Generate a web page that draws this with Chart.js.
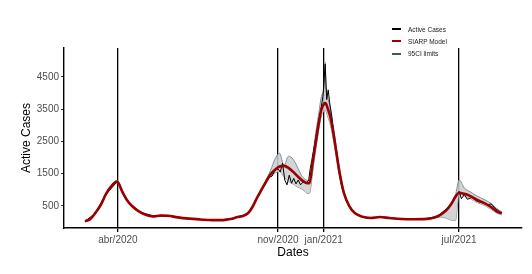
<!DOCTYPE html>
<html>
<head>
<meta charset="utf-8">
<script src="https://cdn.jsdelivr.net/npm/chart.js@4/dist/chart.umd.min.js"></script>
<style>
  html, body { margin: 0; padding: 0; background: #fff; }
  #wrap { position: relative; width: 532px; height: 274px; }
  #legend { position: absolute; left: 392px; top: 23px; font-family: "Liberation Sans", Arial, sans-serif; font-size: 6.5px; color: #222; }
  .item { height: 12.3px; display: flex; align-items: center; }
  .sw { width: 9px; height: 2px; margin-right: 7px; }
</style>
</head>
<body>
<div id="wrap">
  <canvas id="c" width="532" height="274"></canvas>
  <div id="legend"></div>
</div>
<script>
// ---- data ----
const modelDates = ["2020-02-17","2020-02-24","2020-03-02","2020-03-09","2020-03-16","2020-03-23","2020-03-31",
  "2020-04-07","2020-04-14","2020-04-21","2020-04-28","2020-05-08","2020-05-18","2020-05-28","2020-06-07","2020-06-20",
  "2020-07-05","2020-07-20","2020-08-05","2020-08-20","2020-08-30","2020-09-08","2020-09-16","2020-09-22","2020-09-28",
  "2020-10-04","2020-10-10","2020-10-16","2020-10-22","2020-10-28","2020-11-03","2020-11-09","2020-11-15","2020-11-21",
  "2020-11-27","2020-12-03","2020-12-09","2020-12-13","2020-12-17","2020-12-21","2020-12-25","2020-12-29","2021-01-02",
  "2021-01-03","2021-01-04",
  "2021-01-06","2021-01-10","2021-01-14","2021-01-18","2021-01-22","2021-01-28","2021-02-04","2021-02-12","2021-02-22",
  "2021-03-05","2021-03-17","2021-03-30","2021-04-15","2021-05-01","2021-05-15","2021-05-28","2021-06-06","2021-06-13",
  "2021-06-20","2021-06-26","2021-07-01","2021-07-08","2021-07-16","2021-07-25","2021-08-03","2021-08-12","2021-08-20","2021-08-27"];
const modelValues = [20,80,280,520,860,1100,1250,
  930,650,470,340,220,170,200,190,140,
  100,75,55,55,90,150,190,270,470,
  750,1000,1250,1480,1620,1720,1740,1680,1560,
  1420,1290,1210,1200,1800,2400,3000,3500,3680,
  3690,3670,
  3550,3250,2750,2150,1550,900,500,265,160,
  120,150,120,90,80,85,130,220,340,
  540,780,905,870,800,680,590,470,330,265];
const lowerValues = [18,75,265,500,830,1060,1210,
  900,630,455,330,212,164,193,183,135,
  96,72,52,52,86,144,183,260,450,
  720,960,1200,1420,1520,1560,1400,1250,1180,
  1080,1020,900,880,1500,2200,2800,3300,3450,
  3480,3450,
  3300,3000,2550,2000,1450,860,480,255,154,
  115,144,115,86,76,80,110,150,120,
  60,40,870,800,720,600,520,400,280,210];
const upperValues = [22,85,295,540,890,1140,1290,
  960,670,485,350,228,176,207,197,145,
  104,78,58,58,94,156,197,280,490,
  780,1040,1300,1600,1950,2130,1750,2040,1950,
  1700,1420,1300,1280,1900,2700,3300,3900,4300,
  4950,4200,
  3900,3500,2950,2300,1700,950,520,275,166,
  125,156,125,94,84,90,150,230,370,
  580,830,1300,1050,930,800,700,580,420,315];
const activeDates = ["2020-02-17","2020-03-01","2020-03-15","2020-03-31","2020-04-15","2020-05-01","2020-05-20",
  "2020-06-10","2020-07-01","2020-07-25","2020-08-15","2020-09-01","2020-09-15","2020-09-25","2020-10-02","2020-10-09",
  "2020-10-16","2020-10-20","2020-10-24","2020-10-28","2020-11-01","2020-11-04","2020-11-07","2020-11-10","2020-11-13",
  "2020-11-16","2020-11-19","2020-11-22","2020-11-25","2020-11-28","2020-12-01","2020-12-05","2020-12-09","2020-12-12",
  "2020-12-14","2020-12-16","2020-12-19","2020-12-22","2020-12-25","2020-12-28","2020-12-31","2021-01-03","2021-01-05",
  "2021-01-07","2021-01-09","2021-01-12","2021-01-15","2021-01-18","2021-01-21","2021-01-25","2021-02-01","2021-02-10",
  "2021-02-22","2021-03-10","2021-03-25","2021-04-15","2021-05-10","2021-06-01","2021-06-15","2021-06-25","2021-07-01",
  "2021-07-04","2021-07-08","2021-07-12","2021-07-18","2021-07-25","2021-08-01","2021-08-08","2021-08-13","2021-08-18","2021-08-25"];
const activeValues = [20,250,820,1250,620,300,175,
  180,110,65,60,110,200,330,680,960,
  1230,1380,1420,1600,1650,1550,1820,1300,1150,
  1450,1200,1350,1180,1300,1150,1250,1200,1300,
  1650,1900,2300,2700,3100,3450,3900,4900,3800,
  4100,3700,3250,2600,2200,1700,1100,620,300,
  150,130,140,90,80,160,420,700,950,
  720,850,700,760,640,600,530,560,420,300];
const xTickDates = ["2020-04-01","2020-11-01","2021-01-01","2021-07-01"];
const xTickLabels = ["abr/2020","nov/2020","jan/2021","jul/2021"];
const yTicks = [500,1500,2500,3500,4500];
const seriesNames = ["Active Cases","SIARP Model","95CI limits"];

// ---- helpers ----
const ORIGIN = Date.UTC(2020,3,1);
function dayNum(s){ const p = s.split("-").map(Number); return (Date.UTC(p[0],p[1]-1,p[2]) - ORIGIN)/86400000; }
const pts = (ds, vs) => ds.map((d,i)=>({x: dayNum(d), y: vs[i]}));
const xTickVals = xTickDates.map(dayNum);

const colors = {active:"#000000", model:"#990000", ci:"#3f5a54"};

// legend (HTML)
const lg = document.getElementById("legend");
[[seriesNames[0],colors.active],[seriesNames[1],colors.model],[seriesNames[2],colors.ci]].forEach(([n,c])=>{
  const d = document.createElement("div"); d.className="item";
  d.innerHTML = '<span class="sw" style="background:'+c+'"></span><span>'+n+'</span>';
  lg.appendChild(d);
});

const tickFont = {family:"'Liberation Sans', Arial, sans-serif", size:10};
new Chart(document.getElementById("c"), {
  type: "line",
  data: {
    datasets: [
      {label: seriesNames[1], data: pts(modelDates, modelValues), borderColor: colors.model, borderWidth: 2.6,
       pointRadius: 0, cubicInterpolationMode: "monotone", fill: false},
      {label: seriesNames[0], data: pts(activeDates, activeValues), borderColor: colors.active, borderWidth: 1,
       pointRadius: 0, tension: 0, fill: false},
      {label: "upper", data: pts(modelDates, upperValues), borderColor: "#7d8b99", borderWidth: 1,
       pointRadius: 0, cubicInterpolationMode: "monotone", fill: "+1", backgroundColor: "rgba(205,205,208,0.85)"},
      {label: "lower", data: pts(modelDates, lowerValues), borderColor: "#7d8b99", borderWidth: 1,
       pointRadius: 0, cubicInterpolationMode: "monotone", fill: false}
    ]
  },
  options: {
    responsive: false, animation: false, devicePixelRatio: 1,
    layout: {padding: {left: 0, right: 10, top: 48, bottom: 0}},
    plugins: {legend: {display: false}, tooltip: {enabled: false}},
    scales: {
      x: {
        type: "linear", min: -72, max: 540,
        afterBuildTicks: (s) => { s.ticks = xTickVals.map(v=>({value:v})); },
        afterFit: (s) => { s.height = 46; },
        ticks: {autoSkip: false, maxRotation: 0, padding: 2, color: "#4d4d4d", font: tickFont,
          callback: (v) => { const i = xTickVals.indexOf(v); return i >= 0 ? xTickLabels[i] : ""; }},
        grid: {display: true, drawOnChartArea: true, drawTicks: true, tickLength: 4, color: "#000", lineWidth: 1.3},
        border: {display: true, color: "#000", width: 1.4},
        title: {display: true, text: "Dates", color: "#000", font: {family:"'Liberation Sans', Arial, sans-serif", size: 12},
          padding: {top: 0, bottom: 14}}
      },
      y: {
        min: -190, max: 5400,
        afterBuildTicks: (s) => { s.ticks = yTicks.map(v=>({value:v})); },
        afterFit: (s) => { s.width = 64; },
        ticks: {padding: 2, color: "#4d4d4d", font: tickFont, callback: (v)=> String(v)},
        grid: {display: true, drawOnChartArea: false, drawTicks: true, tickLength: 3, color: "#333", lineWidth: 1},
        border: {display: true, color: "#000", width: 1.4},
        title: {display: true, text: "Active Cases", color: "#000", font: {family:"'Liberation Sans', Arial, sans-serif", size: 12},
          padding: {top: 19, bottom: 0}}
      }
    }
  }
});
</script>
</body>
</html>
